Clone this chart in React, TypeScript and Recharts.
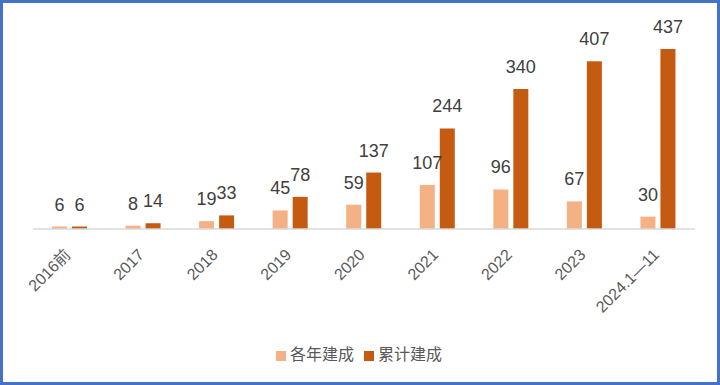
import { Bar, BarChart, LabelList, Legend, XAxis, YAxis } from "recharts";

const categories = ["2016前", "2017", "2018", "2019", "2020", "2021", "2022", "2023", "2024.1—11"];
const annualBuilt = [6, 8, 19, 45, 59, 107, 96, 67, 30];
const totalBuilt = [6, 14, 33, 78, 137, 244, 340, 407, 437];

const data = categories.map((name, i) => ({
  name,
  annual: annualBuilt[i],
  total: totalBuilt[i],
}));

const FONT = '"Noto Sans CJK SC", "Noto Sans", sans-serif';
const NUM_FONT = '"Liberation Sans", "Noto Sans CJK SC", sans-serif';
const LIGHT = "#F4B183";
const DARK = "#C55A11";

function AngledTick(props: any) {
  const { x, y, payload } = props;
  return (
    <g transform={`translate(${x - 1},${y + 16})`}>
      <text
        x={0}
        y={0}
        dy={4}
        textAnchor="end"
        transform="rotate(-45)"
        fontSize={16}
        fill="#595959"
        fontFamily={NUM_FONT}
      >
        {payload.value}
      </text>
    </g>
  );
}

export default function App() {
  return (
    <div
      style={{
        position: "absolute",
        left: 0,
        top: 0,
        width: 720,
        height: 385,
        boxSizing: "border-box",
        border: "3px solid #4472C4",
        background: "#fff",
        overflow: "hidden",
      }}
    >
      <div style={{ position: "absolute", left: -3, top: -3 }}>
        <BarChart
          width={720}
          height={385}
          data={data}
          margin={{ top: 23, right: 25, left: 33, bottom: 20 }}
          barSize={15}
          barGap={5}
        >
          <XAxis
            dataKey="name"
            interval={0}
            tickLine={false}
            axisLine={{ stroke: "#d9d9d9", strokeWidth: 1.5 }}
            height={112}
            tick={<AngledTick />}
          />
          <YAxis hide domain={[0, 500]} />
          <Legend
            verticalAlign="bottom"
            align="center"
            iconType="square"
            iconSize={10}
            wrapperStyle={{ fontSize: 16, fontFamily: FONT, color: "#595959" }}
            formatter={(value) => <span style={{ color: "#595959" }}>{value}</span>}
          />
          <Bar dataKey="annual" name="各年建成" fill={LIGHT} isAnimationActive={false}>
            <LabelList dataKey="annual" position="top" offset={16} fontSize={18} fill="#404040" fontFamily={NUM_FONT} />
          </Bar>
          <Bar dataKey="total" name="累计建成" fill={DARK} isAnimationActive={false}>
            <LabelList dataKey="total" position="top" offset={16} fontSize={18} fill="#404040" fontFamily={NUM_FONT} />
          </Bar>
        </BarChart>
      </div>
    </div>
  );
}
